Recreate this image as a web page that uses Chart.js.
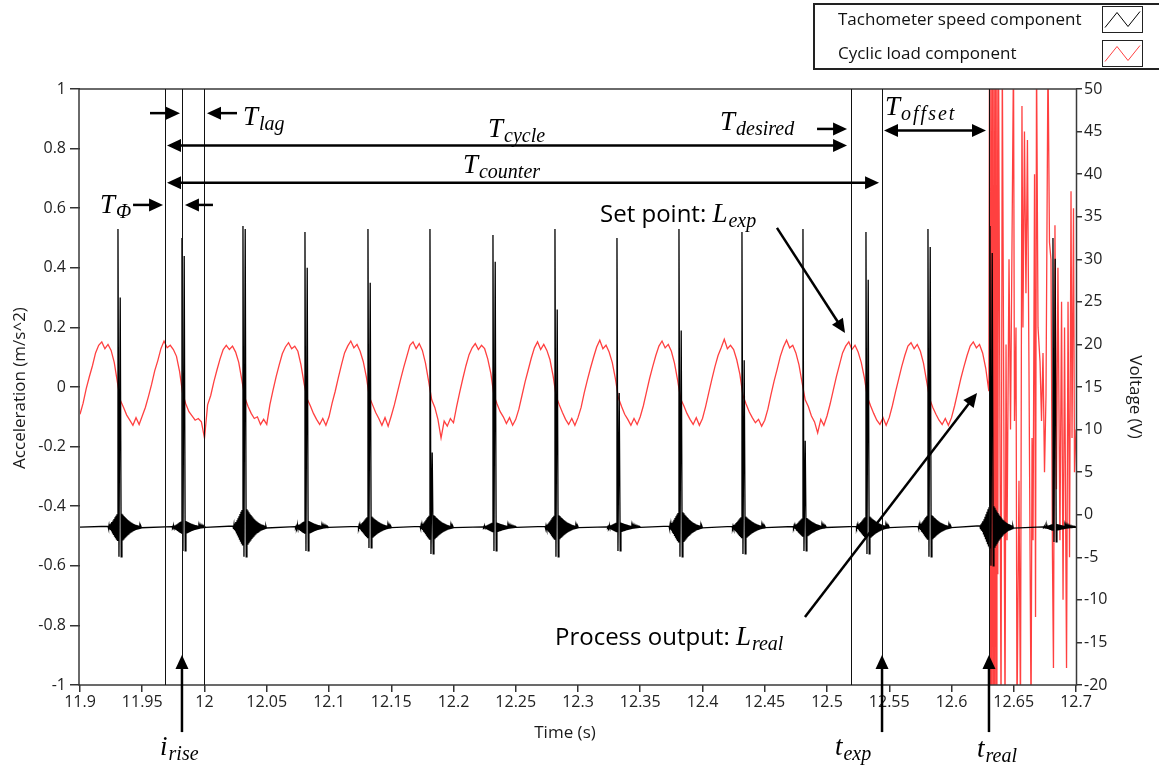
<!DOCTYPE html>
<html>
<head>
<meta charset="utf-8">
<script src="https://cdn.jsdelivr.net/npm/chart.js@4.4.0/dist/chart.umd.min.js"></script>
<style>
  html, body { margin: 0; padding: 0; background: #fff; }
  #wrap { width: 1159px; height: 769px; position: relative; }
</style>
</head>
<body>
<div id="wrap"><canvas id="chart"></canvas></div>
<script>
// axis ticks
const timeTicks = [11.9, 11.95, 12, 12.05, 12.1, 12.15, 12.2, 12.25, 12.3, 12.35, 12.4, 12.45, 12.5, 12.55, 12.6, 12.65, 12.7];
const accTicks = [-1, -0.8, -0.6, -0.4, -0.2, 0, 0.2, 0.4, 0.6, 0.8, 1];
const voltTicks = [-20, -15, -10, -5, 0, 5, 10, 15, 20, 25, 30, 35, 40, 45, 50];

// cyclic load (V), sampled every 2.5 ms from 11.9 s
const loadStart = 11.9;
const loadStep = 0.0025;
const loadValues = [
    11.8, 13.1, 14.8, 16.2, 17.5, 19.0, 19.9, 20.3, 19.5, 20.0, 19.3, 17.9, 15.6, 13.4, 12.6, 11.7, 11.1, 10.5, 11.4, 10.6,
    11.6, 12.6, 13.9, 15.3, 16.9, 18.1, 19.5, 20.4, 19.6, 19.9, 19.4, 18.6, 16.8, 14.2, 13.0, 12.1, 11.6, 11.1, 11.3, 10.9,
    9.0, 12.9, 14.0, 15.6, 17.0, 18.3, 19.4, 19.9, 19.4, 19.8, 19.1, 17.9, 15.8, 13.7, 12.7, 11.9, 11.3, 11.5, 10.6, 11.2,
    10.6, 12.9, 14.6, 16.2, 17.6, 18.9, 19.7, 20.2, 19.5, 19.8, 19.2, 17.6, 15.4, 13.6, 12.8, 11.9, 11.2, 10.6, 11.3, 10.5,
    11.5, 13.1, 14.5, 16.1, 17.6, 19.0, 19.8, 20.4, 19.6, 20.0, 19.2, 18.0, 16.2, 13.8, 12.9, 12.0, 11.3, 10.5, 11.4, 10.4,
    11.6, 12.9, 14.4, 15.9, 17.3, 18.6, 19.9, 20.3, 19.5, 20.1, 19.3, 17.8, 15.7, 13.5, 12.6, 11.2, 9.0, 11.0, 10.4, 11.3,
    10.8, 12.7, 14.4, 16.0, 17.5, 18.8, 19.6, 20.1, 19.4, 19.9, 19.5, 18.3, 16.6, 14.0, 13.0, 12.1, 11.5, 10.7, 11.4, 10.5,
    11.2, 12.4, 14.0, 15.6, 17.0, 18.4, 19.6, 20.3, 19.4, 20.0, 19.3, 18.2, 16.3, 13.9, 12.9, 12.0, 11.2, 10.6, 11.3, 10.5,
    11.4, 12.6, 14.3, 15.8, 17.2, 18.5, 19.7, 20.5, 19.5, 19.9, 19.1, 17.9, 16.0, 13.7, 12.7, 11.8, 11.2, 10.5, 11.3, 10.6,
    11.5, 12.8, 14.4, 16.0, 17.4, 18.7, 19.8, 20.4, 19.6, 20.0, 19.2, 17.8, 15.8, 13.6, 12.8, 11.9, 11.2, 10.6, 11.4, 10.5,
    11.3, 12.7, 14.3, 15.9, 17.4, 18.7, 19.6, 20.6, 19.5, 19.9, 19.4, 18.2, 16.5, 14.0, 13.0, 12.1, 11.4, 10.8, 11.2, 10.4,
    11.1, 12.4, 14.1, 15.7, 17.1, 18.6, 19.7, 20.5, 19.6, 19.9, 19.0, 17.6, 15.5, 13.5, 12.7, 11.6, 10.9, 9.6, 11.2, 10.5,
    11.6, 13.0, 14.6, 16.2, 17.6, 19.0, 19.8, 20.3, 19.4, 19.9, 19.1, 17.9, 16.1, 13.8, 12.8, 11.9, 11.1, 10.6, 11.4, 10.5,
    11.4, 12.8, 14.4, 15.9, 17.4, 18.7, 19.8, 20.2, 19.5, 20.0, 19.2, 17.8, 15.7, 13.6, 12.6, 11.8, 11.1, 10.6, 11.3, 10.5,
    11.4, 12.8, 14.4, 16.0, 17.4, 18.7, 19.8, 20.3, 19.6, 20.0, 19.0, 17.2, 14.5
];
// cyclic load after t_real (unstable part)
const wildTimes = [
    12.6305, 12.6312, 12.6317, 12.6324, 12.6329, 12.6336, 12.6341, 12.6348, 12.6353, 12.6360,
    12.6365, 12.6372, 12.6378, 12.6398, 12.6408, 12.6418, 12.6430, 12.6438, 12.6446, 12.6462,
    12.6474, 12.6498, 12.6506, 12.6518, 12.6526, 12.6542, 12.6554, 12.6566, 12.6574, 12.6586,
    12.6598, 12.6610, 12.6622, 12.6639, 12.6647, 12.6655, 12.6667, 12.6675, 12.6683, 12.6695,
    12.6711, 12.6723, 12.6735, 12.6747, 12.6759, 12.6775, 12.6787, 12.6799, 12.6811, 12.6819,
    12.6831, 12.6843, 12.6855, 12.6871, 12.6884, 12.6896, 12.6908, 12.6924, 12.6936, 12.6948,
    12.6960, 12.6968, 12.6980, 12.6988, 12.7000
];
const wildValues = [
    54, -24, 54, -24, 54, -24, 54, -24, 54, -24,
    54, -7, 54, -24, 54, 20, -24, 20, -3, 30,
    10, 54, 11, 22, -24, 4, -24, 48, 22, 45,
    26, 44, 18, -24, 9, -3, 40, -12, 54, 22,
    18, 11, 19, 5, 14, 54, 32, 30, -5, -18,
    34, 3, 29, -3, 25, -10, 22, -18, 25, -5,
    38, 9, 36, 5, 10
];

// tachometer pulses (acceleration, m/s^2)
const tachBaseline = -0.47;
const spikeTimes = [11.9305, 11.9819, 12.0309, 12.0807, 12.1313, 12.1811, 12.2317, 12.2815, 12.3313, 12.3811, 12.4317, 12.4807, 12.5313, 12.5811, 12.6309, 12.6815];
const spikePeaks = [0.53, 0.50, 0.54, 0.52, 0.53, 0.53, 0.51, 0.53, 0.50, 0.53, 0.52, 0.53, 0.52, 0.53, 0.54, 0.50];
const spikeSecond = [0.30, 0.44, 0.53, 0.40, 0.35, -0.22, 0.42, 0.26, -0.02, 0.19, 0.09, -0.18, 0.36, 0.47, 0.45, 0.43];
const spikeDips = [-0.57, -0.55, -0.57, -0.55, -0.54, -0.56, -0.55, -0.57, -0.55, -0.57, -0.56, -0.55, -0.56, -0.57, -0.60, -0.52];
const ringAmp = [0.045, 0.02, 0.06, 0.02, 0.035, 0.04, 0.015, 0.04, 0.015, 0.05, 0.035, 0.03, 0.035, 0.04, 0.07, 0.01];
// ringing around each pulse, one value per 0.4 ms (20 before, 40 after)
const ringBefore = [0.06, -0.1, 0.13, -0.17, 0.2, -0.24, 0.28, -0.33, 0.38, -0.43, 0.49, -0.55, 0.61, -0.67, 0.73, -0.79, 0.85, -0.9, 0.95, -1.0];
const ringAfter = [1.0, -0.96, 0.92, -0.87, 0.83, -0.79, 0.75, -0.71, 0.67, -0.63, 0.6, -0.56, 0.53, -0.5, 0.47, -0.44, 0.41, -0.38, 0.35, -0.33,
    0.31, -0.29, 0.27, -0.25, 0.23, -0.21, 0.19, -0.17, 0.16, -0.15, 0.14, -0.13, 0.12, -0.11, 0.1, -0.09, 0.08, -0.07, 0.06, -0.05];

// event times (s)
const tPhi = 11.9683, tRise = 11.9819, tLag = 12.0, tDesired = 12.5193, tExp = 12.5442, tReal = 12.6301;
const markerTimes = [tPhi, tRise, tLag, tDesired, tExp, tReal];

// build the series
const loadData = loadValues.map((v, i) => ({ x: loadStart + i * loadStep, y: v }))
    .concat(wildTimes.map((t, i) => ({ x: t, y: wildValues[i] })));

const tachData = [{ x: 11.9, y: tachBaseline }];
spikeTimes.forEach((s, k) => {
    ringBefore.forEach((r, j) => tachData.push({ x: s - 0.008 + j * 0.0004, y: tachBaseline + ringAmp[k] * r }));
    tachData.push({ x: s, y: spikePeaks[k] });
    tachData.push({ x: s + 0.0008, y: spikeDips[k] });
    tachData.push({ x: s + 0.0018, y: spikeSecond[k] });
    tachData.push({ x: s + 0.0026, y: spikeDips[k] });
    ringAfter.forEach((r, j) => tachData.push({ x: s + 0.0032 + j * 0.0004, y: tachBaseline + ringAmp[k] * r }));
});
tachData.push({ x: 12.7, y: tachBaseline });

// annotation geometry in data units (time, acceleration)
const arrows = [
    { a: [11.9562, 0.919], b: [11.9803, 0.919] },
    { a: [12.0261, 0.919], b: [12.0020, 0.919] },
    { a: [11.9699, 0.810], b: [12.5161, 0.810], both: true },
    { a: [11.9699, 0.685], b: [12.5418, 0.685], both: true },
    { a: [11.9426, 0.611], b: [11.9667, 0.611] },
    { a: [12.0068, 0.611], b: [11.9843, 0.611] },
    { a: [12.4920, 0.866], b: [12.5161, 0.866] },
    { a: [12.5458, 0.861], b: [12.6277, 0.861], both: true },
    { a: [12.4598, 0.534], b: [12.5145, 0.181] },
    { a: [12.4823, -0.772], b: [12.6205, -0.020] },
    { a: [tRise, -1.158], b: [tRise, -0.899] },
    { a: [tExp, -1.158], b: [tExp, -0.899] },
    { a: [tReal, -1.158], b: [tReal, -0.899] }
];
const labels = [
    { at: [12.0309, 0.879], main: 'T', sub: 'lag' },
    { at: [12.2277, 0.839], main: 'T', sub: 'cycle' },
    { at: [12.2076, 0.718], main: 'T', sub: 'counter' },
    { at: [12.4141, 0.862], main: 'T', sub: 'desired' },
    { at: [12.5466, 0.913], main: 'T', sub: 'offset', spaced: true },
    { at: [11.9161, 0.584], main: 'T', sub: 'Φ' },
    { at: [12.3177, 0.554], lead: 'Set point: ', main: 'L', sub: 'exp' },
    { at: [12.2815, -0.866], lead: 'Process output: ', main: 'L', sub: 'real' },
    { at: [11.9643, -1.235], main: 'i', sub: 'rise' },
    { at: [12.5064, -1.235], main: 't', sub: 'exp' },
    { at: [12.6205, -1.242], main: 't', sub: 'real' }
];

function drawArrow(ctx, x1, y1, x2, y2, both) {
    const ang = Math.atan2(y2 - y1, x2 - x1);
    const L = 14, W = 6.5;
    const head = (x, y, a) => {
        ctx.beginPath();
        ctx.moveTo(x, y);
        ctx.lineTo(x - L * Math.cos(a) + W * Math.sin(a), y - L * Math.sin(a) - W * Math.cos(a));
        ctx.lineTo(x - L * Math.cos(a) - W * Math.sin(a), y - L * Math.sin(a) + W * Math.cos(a));
        ctx.closePath();
        ctx.fill();
    };
    const sx = both ? x1 + (L - 2) * Math.cos(ang) : x1;
    const sy = both ? y1 + (L - 2) * Math.sin(ang) : y1;
    ctx.beginPath();
    ctx.moveTo(sx, sy);
    ctx.lineTo(x2 - (L - 2) * Math.cos(ang), y2 - (L - 2) * Math.sin(ang));
    ctx.stroke();
    head(x2, y2, ang);
    if (both) head(x1, y1, ang + Math.PI);
}

const overlay = {
    id: 'overlay',
    afterDatasetsDraw(chart) {
        const { ctx, chartArea: a, scales } = chart;
        const px = t => scales.x.getPixelForValue(t);
        const py = v => scales.y.getPixelForValue(v);
        ctx.save();
        // plot frame
        ctx.strokeStyle = '#3a3a3a';
        ctx.lineWidth = 1.5;
        ctx.strokeRect(a.left - 1, a.top, a.right - a.left + 1.5, a.bottom - a.top);
        // event lines
        ctx.strokeStyle = '#111';
        ctx.lineWidth = 1;
        markerTimes.forEach(t => {
            const X = Math.round(px(t)) + 0.5;
            ctx.beginPath();
            ctx.moveTo(X, a.top);
            ctx.lineTo(X, a.bottom);
            ctx.stroke();
        });
        // arrows
        ctx.strokeStyle = '#000';
        ctx.fillStyle = '#000';
        ctx.lineWidth = 2.5;
        arrows.forEach(ar => drawArrow(ctx, px(ar.a[0]), py(ar.a[1]), px(ar.b[0]), py(ar.b[1]), ar.both));
        ctx.restore();
    },
    afterDraw(chart) {
        const { ctx, scales } = chart;
        const px = t => scales.x.getPixelForValue(t);
        const py = v => scales.y.getPixelForValue(v);
        ctx.save();
        ctx.fillStyle = '#000';
        ctx.textBaseline = 'alphabetic';
        ctx.textAlign = 'left';
        labels.forEach(lb => {
            let x = px(lb.at[0]);
            const y = py(lb.at[1]);
            if (lb.lead) {
                ctx.font = '24px "Open Sans"';
                ctx.fillText(lb.lead, x, y);
                x += ctx.measureText(lb.lead).width;
            }
            ctx.font = 'italic 27px "Liberation Serif"';
            ctx.fillText(lb.main, x, y);
            x += ctx.measureText(lb.main).width;
            ctx.font = 'italic 20px "Liberation Serif"';
            ctx.letterSpacing = lb.spaced ? '2px' : '0px';
            ctx.fillText(lb.sub, x + 1, y + 5);
            ctx.letterSpacing = '0px';
        });

        // axis titles
        ctx.fillStyle = '#1a1a1a';
        ctx.font = '17px "Open Sans"';
        ctx.textAlign = 'center';
        ctx.textBaseline = 'middle';
        ctx.fillText('Time (s)', 565, 733);
        ctx.save();
        ctx.translate(20, 388);
        ctx.rotate(-Math.PI / 2);
        ctx.fillText('Acceleration (m/s^2)', 0, 0);
        ctx.restore();
        ctx.save();
        ctx.translate(1135, 397);
        ctx.rotate(Math.PI / 2);
        ctx.fillText('Voltage (V)', 0, 0);
        ctx.restore();

        // legend
        ctx.strokeStyle = '#222';
        ctx.lineWidth = 2;
        ctx.strokeRect(814, 4, 360, 65);
        ctx.font = '17px "Open Sans"';
        ctx.textAlign = 'left';
        ctx.textBaseline = 'alphabetic';
        ctx.fillStyle = '#111';
        ctx.fillText('Tachometer speed component', 838, 25);
        ctx.fillText('Cyclic load component', 838, 59);
        ctx.lineWidth = 1;
        [[6.5, '#000'], [40.5, '#ff4040']].forEach(([top, col]) => {
            ctx.strokeStyle = '#222';
            ctx.strokeRect(1102.5, top, 40, 26);
            ctx.strokeStyle = col;
            ctx.beginPath();
            ctx.moveTo(1105, top + 21);
            ctx.lineTo(1117, top + 6);
            ctx.lineTo(1128, top + 20);
            ctx.lineTo(1140, top + 5);
            ctx.stroke();
        });
        ctx.restore();
    }
};

Chart.defaults.font.family = '"Open Sans", "DejaVu Sans", sans-serif';

const tickGrid = len => ({ display: true, drawOnChartArea: false, drawTicks: true, tickLength: len, color: '#333', lineWidth: 1.5 });
const tickFont = { size: 16 };

new Chart(document.getElementById('chart'), {
    type: 'line',
    data: {
        datasets: [
            {
                label: 'Tachometer speed component',
                data: tachData,
                yAxisID: 'y',
                borderColor: '#000',
                borderWidth: 1.3,
                pointRadius: 0,
                tension: 0
            },
            {
                label: 'Cyclic load component',
                data: loadData,
                yAxisID: 'y2',
                borderColor: '#ff4040',
                borderWidth: 1.3,
                pointRadius: 0,
                tension: 0
            }
        ]
    },
    options: {
        responsive: true,
        maintainAspectRatio: false,
        animation: false,
        normalized: true,
        layout: { padding: { top: 89, left: 0, right: 0, bottom: 0 } },
        plugins: { legend: { display: false }, tooltip: { enabled: false } },
        scales: {
            x: {
                type: 'linear',
                min: 11.9,
                max: 12.7,
                afterBuildTicks: s => { s.ticks = timeTicks.map(v => ({ value: v })); },
                afterFit: s => { s.height = 84; },
                ticks: { callback: v => String(v), color: '#222', font: tickFont, padding: 1, maxRotation: 0, autoSkip: false },
                grid: tickGrid(7),
                border: { display: false }
            },
            y: {
                position: 'left',
                min: -1,
                max: 1,
                afterBuildTicks: s => { s.ticks = accTicks.map(v => ({ value: v })); },
                afterFit: s => { s.width = 80; },
                ticks: { callback: v => String(v), color: '#222', font: tickFont, padding: 4, autoSkip: false },
                grid: tickGrid(10),
                border: { display: false }
            },
            y2: {
                position: 'right',
                min: -20,
                max: 50,
                afterBuildTicks: s => { s.ticks = voltTicks.map(v => ({ value: v })); },
                afterFit: s => { s.width = 83; },
                ticks: { callback: v => String(v), color: '#222', font: tickFont, padding: 2, autoSkip: false },
                grid: tickGrid(6),
                border: { display: false }
            }
        }
    },
    plugins: [overlay]
});
</script>
</body>
</html>
